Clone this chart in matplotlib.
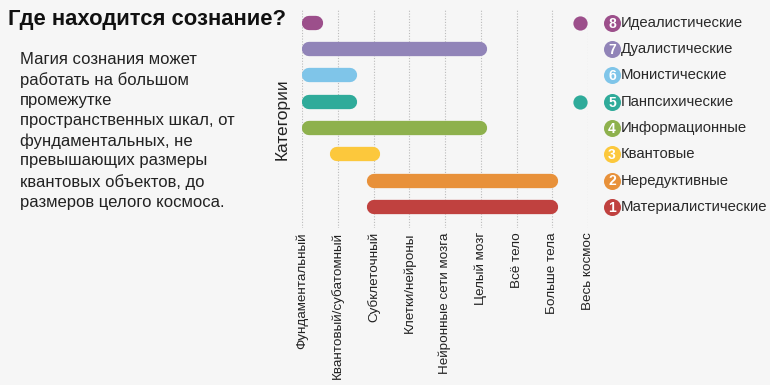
import matplotlib.pyplot as plt

plt.rcParams['font.family'] = ['Liberation Sans', 'DejaVu Sans']

# data: scale positions (0 = fundamental ... 8 = whole cosmos)
scales = ['Фундаментальный', 'Квантовый/субатомный', 'Субклеточный', 'Клетки/нейроны',
          'Нейронные сети мозга', 'Целый мозг', 'Всё тело', 'Больше тела', 'Весь космос']
categories = ['Материалистические', 'Нередуктивные', 'Квантовые', 'Информационные',
              'Панпсихические', 'Монистические', 'Дуалистические', 'Идеалистические']
bar_start = [1.82, 1.82, 0.78, 0.0, 0.0, 0.0, 0.0, 0.0]
bar_end = [7.17, 7.17, 2.18, 5.18, 1.54, 1.54, 5.18, 0.59]
dot_pos = [None, None, None, None, 7.79, None, None, 7.79]
colors = ['#c0413f', '#e8913a', '#fcc83c', '#8eb14d', '#2fab9a', '#7fc5e9', '#9184b8', '#9c4f8b']

bg = '#f6f6f6'
fig = plt.figure(figsize=(7.7, 3.85), dpi=100, facecolor=bg)
ax = fig.add_axes([302/770, (385-228)/385, 286/770, 218/385])
ax.set_facecolor(bg)
ax.set_xlim(0, 8)
ax.set_ylim(0.2, 8.49)

# vertical dotted grid
for i in range(len(scales)):
    ax.axvline(i, color='#bbbbbb', lw=0.8, ls=(0, (1, 1.5)), zorder=0)

r = 7 / 35.75  # cap radius in data units
for k, (s, e, c) in enumerate(zip(bar_start, bar_end, colors)):
    y = k + 1
    ax.plot([s + r, e - r], [y, y], color=c, lw=10.3, solid_capstyle='round', zorder=2)
    if dot_pos[k] is not None:
        ax.scatter(dot_pos[k], y, s=105, color=c, zorder=3, clip_on=False, linewidths=0)
    # legend with numbered circles
    ax.scatter(8.67, y, s=150, color=c, zorder=3, clip_on=False, linewidths=0)
    ax.text(8.67, y - 0.03, str(k + 1), color='white', fontsize=10, fontweight='bold',
            ha='center', va='center', zorder=4, clip_on=False)
    ax.text(8.93, y, categories[k], fontsize=10.7, color='#2a2a2a', ha='left', va='center',
            clip_on=False)

ax.set_xticks(range(len(scales)))
ax.set_xticklabels(scales, rotation=90, fontsize=9.7, color='#222222', va='top')
ax.tick_params(axis='x', length=0, pad=3)
ax.set_yticks([])
for sp in ax.spines.values():
    sp.set_visible(False)
ax.set_ylabel('Категории', fontsize=12.5, color='#222222', labelpad=9)

fig.text(8/770, 1 - 19/385, 'Где находится сознание?', fontsize=15.8, fontweight='bold',
         ha='left', va='center', color='#111111')
fig.text(20/770, 1 - 52/385,
         'Магия сознания может\nработать на большом\nпромежутке\nпространственных шкал, от\n'
         'фундаментальных, не\nпревышающих размеры\nквантовых объектов, до\nразмеров целого космоса.',
         fontsize=12, ha='left', va='top', color='#222222', linespacing=1.41)

fig.savefig('out.png', dpi=100, facecolor=bg)
